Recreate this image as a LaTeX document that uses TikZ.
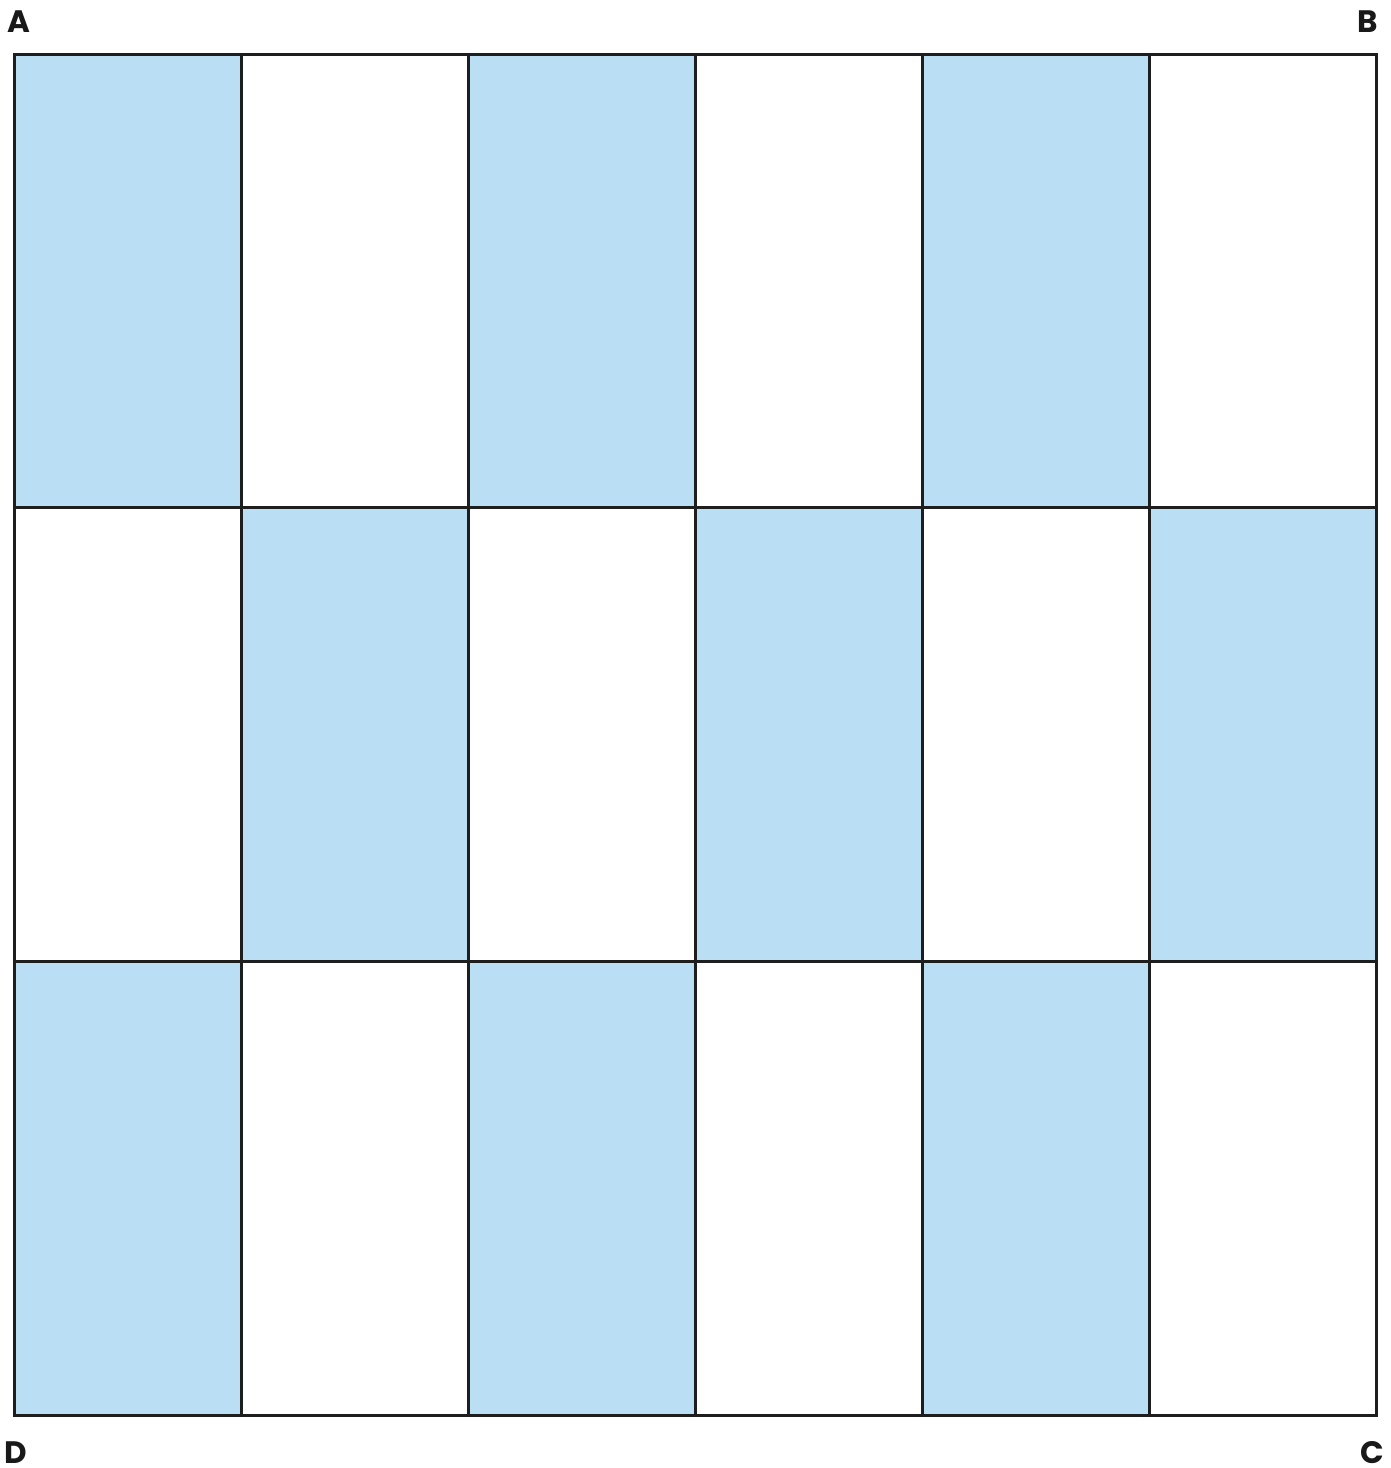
\documentclass[tikz,border=0pt]{standalone}
\usepackage{fontspec}
\setmainfont{Poppins}
\definecolor{tileblue}{RGB}{186,222,243}
\definecolor{gridline}{RGB}{30,30,30}
\tikzset{
  tile/.style={fill=tileblue, draw=none},
  gridstroke/.style={draw=gridline, line width=3pt},
  corner/.style={font=\fontsize{31}{31}\selectfont\bfseries, text=black!90, inner sep=0pt}
}
\begin{document}
\begin{tikzpicture}[x=1pt,y=-1pt]
\useasboundingbox (0,0) rectangle (1391,1468);
% shaded tiles
\foreach \c/\r in {0/0,2/0,4/0,1/1,3/1,5/1,0/2,2/2,4/2}{
  \fill[tile] ({14+227*\c},{54+453.7*\r}) rectangle ({14+227*(\c+1)},{54+453.7*(\r+1)});
}
% grid
\foreach \c in {1,...,5}{
  \draw[gridstroke] ({14+227*\c},54) -- ({14+227*\c},1415);
}
\foreach \r in {1,2}{
  \draw[gridstroke] (14,{54+453.7*\r}) -- (1376,{54+453.7*\r});
}
\draw[gridstroke] (14,54) rectangle (1376,1415);
% corner labels
\node[corner, anchor=base west] (A) at (7,32) {A};
\node[corner, anchor=base east] (B) at (1378,32) {B};
\node[corner, anchor=base west] (D) at (4,1463) {D};
\node[corner, anchor=base east] (C) at (1384,1463) {C};
\end{tikzpicture}
\end{document}
